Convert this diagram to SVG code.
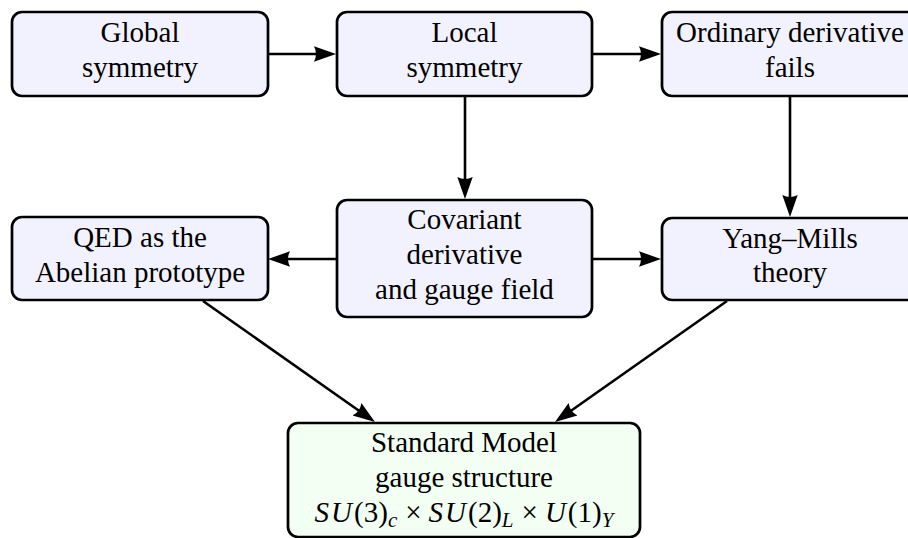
<svg xmlns="http://www.w3.org/2000/svg" width="908" height="538" viewBox="0 0 908 538">
<defs>
<marker id="ah" markerUnits="userSpaceOnUse" markerWidth="24" markerHeight="18" viewBox="0 0 24 18" refX="12" refY="9" orient="auto">
<path d="M0,1.3 Q4,9 0,16.7 L22,9 Z" fill="#000"/>
</marker>
</defs>
<rect width="908" height="538" fill="#fff"/>
<g id="connectors" stroke="#000" stroke-width="2.6" fill="none" marker-end="url(#ah)">
<line x1="268" y1="54" x2="326" y2="54"/>
<line x1="592" y1="54" x2="651" y2="54"/>
<line x1="465" y1="96" x2="465" y2="189"/>
<line x1="790" y1="96" x2="790" y2="207"/>
<line x1="337" y1="259" x2="278" y2="259"/>
<line x1="592" y1="259" x2="651" y2="259"/>
<line x1="203" y1="301" x2="366.8" y2="416.2"/>
<line x1="727" y1="301" x2="563.2" y2="416.2"/>
</g>
<g id="global">
<rect fill="#f2f2ff" stroke="#000" stroke-width="2.7" x="12" y="12" width="256" height="84" rx="10"/>
<text font-family="'Liberation Serif', serif" font-size="29" text-anchor="middle" x="140" y="42">Global</text>
<text font-family="'Liberation Serif', serif" font-size="29" text-anchor="middle" x="140" y="77">symmetry</text>
</g>
<g id="local">
<rect fill="#f2f2ff" stroke="#000" stroke-width="2.7" x="337" y="12" width="255" height="84" rx="10"/>
<text font-family="'Liberation Serif', serif" font-size="29" text-anchor="middle" x="464.5" y="42">Local</text>
<text font-family="'Liberation Serif', serif" font-size="29" text-anchor="middle" x="464.5" y="77">symmetry</text>
</g>
<g id="ordinary">
<rect fill="#f2f2ff" stroke="#000" stroke-width="2.7" x="662" y="12" width="256" height="84" rx="10"/>
<text font-family="'Liberation Serif', serif" font-size="29" text-anchor="middle" x="790" y="42">Ordinary derivative</text>
<text font-family="'Liberation Serif', serif" font-size="29" text-anchor="middle" x="790" y="77">fails</text>
</g>
<g id="covariant">
<rect fill="#f2f2ff" stroke="#000" stroke-width="2.7" x="337" y="200" width="255" height="117" rx="10"/>
<text font-family="'Liberation Serif', serif" font-size="29" text-anchor="middle" x="464.5" y="229">Covariant</text>
<text font-family="'Liberation Serif', serif" font-size="29" text-anchor="middle" x="464.5" y="264">derivative</text>
<text font-family="'Liberation Serif', serif" font-size="29" text-anchor="middle" x="464.5" y="299">and gauge field</text>
</g>
<g id="qed">
<rect fill="#f2f2ff" stroke="#000" stroke-width="2.7" x="12" y="217" width="256" height="83" rx="10"/>
<text font-family="'Liberation Serif', serif" font-size="29" text-anchor="middle" x="140" y="247">QED as the</text>
<text font-family="'Liberation Serif', serif" font-size="29" text-anchor="middle" x="140" y="282">Abelian prototype</text>
</g>
<g id="yangmills">
<rect fill="#f2f2ff" stroke="#000" stroke-width="2.7" x="662" y="218" width="256" height="82" rx="10"/>
<text font-family="'Liberation Serif', serif" font-size="29" text-anchor="middle" x="790" y="248">Yang–Mills</text>
<text font-family="'Liberation Serif', serif" font-size="29" text-anchor="middle" x="790" y="282">theory</text>
</g>
<g id="standardmodel">
<rect fill="#f2fff2" stroke="#000" stroke-width="2.7" x="288" y="423" width="352" height="114" rx="10"/>
<text font-family="'Liberation Serif', serif" font-size="29" text-anchor="middle" x="464" y="452">Standard Model</text>
<text font-family="'Liberation Serif', serif" font-size="29" text-anchor="middle" x="464" y="487">gauge structure</text>
<text font-family="'Liberation Serif', serif" font-size="29" text-anchor="middle" x="464" y="522"><tspan font-style="italic">S</tspan><tspan font-style="italic" dx="2">U</tspan><tspan dx="2">(3)</tspan><tspan font-style="italic" font-size="21" dy="5">c</tspan><tspan dx="8" dy="-5">×</tspan><tspan font-style="italic" dx="7">S</tspan><tspan font-style="italic" dx="2">U</tspan><tspan dx="2">(2)</tspan><tspan font-style="italic" font-size="21" dy="5">L</tspan><tspan dx="8" dy="-5">×</tspan><tspan font-style="italic" dx="7">U</tspan><tspan dx="2">(1)</tspan><tspan font-style="italic" font-size="21" dy="5">Y</tspan></text>
</g>
</svg>
